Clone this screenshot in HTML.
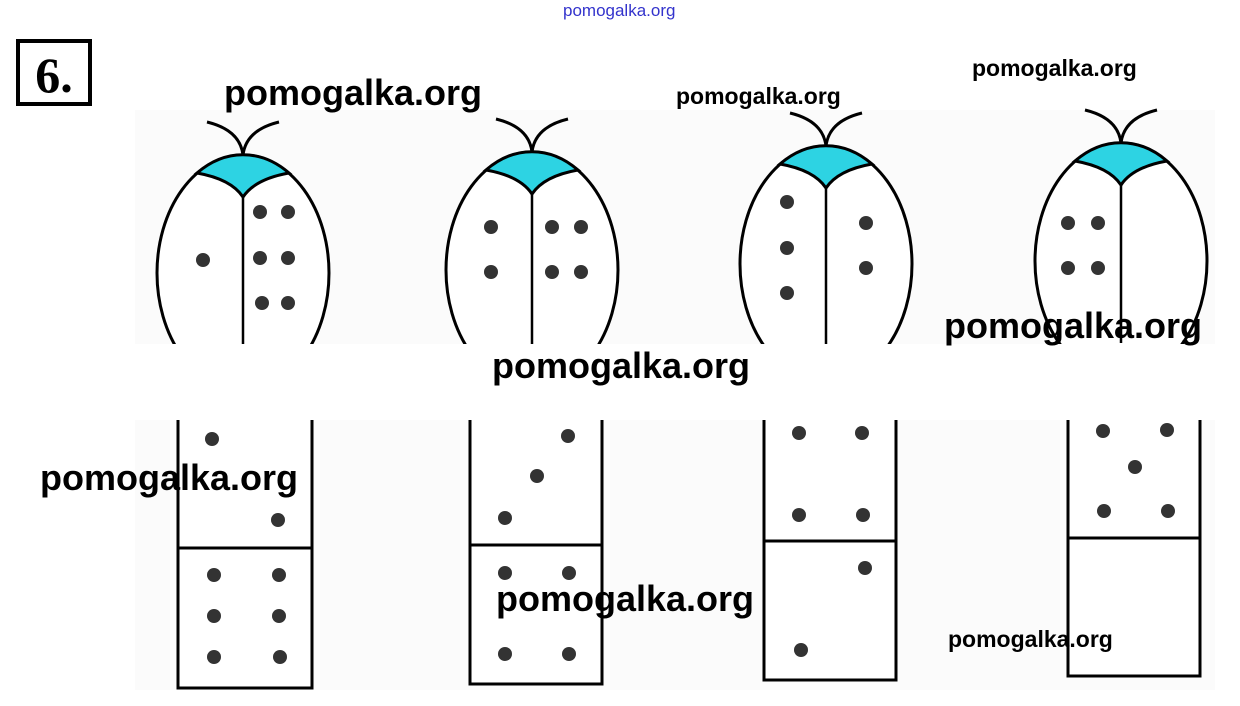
<!DOCTYPE html>
<html><head><meta charset="utf-8"><style>
html,body{margin:0;padding:0;background:#fff;}
.wm{position:absolute;font-family:"Liberation Sans",sans-serif;color:#000;white-space:nowrap;font-weight:bold;}
</style></head><body>
<div style="position:relative;width:1240px;height:706px;overflow:hidden;">
<svg width="1240" height="706" style="position:absolute;left:0;top:0">
<defs>
<g id="lb">
<ellipse cx="0" cy="118" rx="86" ry="118" fill="#fff" stroke="#000" stroke-width="3"/>
<path d="M-46,18 A86,118 0 0 1 46,18 Q12,24 0,42 Q-12,24 -46,18 Z" fill="#2dd3e3" stroke="#000" stroke-width="3"/>
<line x1="0" y1="42" x2="0" y2="200" stroke="#000" stroke-width="2.5"/>
<path d="M0,0 Q-3,-25 -36,-33 M0,0 Q3,-25 36,-33" fill="none" stroke="#000" stroke-width="3"/>
</g>
</defs>
<rect x="135" y="110" width="1080" height="580" fill="#fbfbfb"/>
<use href="#lb" x="243" y="155"/>
<use href="#lb" x="532" y="152"/>
<use href="#lb" x="826" y="146"/>
<use href="#lb" x="1121" y="143"/>
<g fill="#333">
<circle cx="203" cy="260" r="7"/><circle cx="260" cy="212" r="7"/><circle cx="288" cy="212" r="7"/><circle cx="260" cy="258" r="7"/><circle cx="288" cy="258" r="7"/><circle cx="262" cy="303" r="7"/><circle cx="288" cy="303" r="7"/>
<circle cx="491" cy="227" r="7"/><circle cx="491" cy="272" r="7"/><circle cx="552" cy="227" r="7"/><circle cx="581" cy="227" r="7"/><circle cx="552" cy="272" r="7"/><circle cx="581" cy="272" r="7"/>
<circle cx="787" cy="202" r="7"/><circle cx="787" cy="248" r="7"/><circle cx="787" cy="293" r="7"/><circle cx="866" cy="223" r="7"/><circle cx="866" cy="268" r="7"/>
<circle cx="1068" cy="223" r="7"/><circle cx="1098" cy="223" r="7"/><circle cx="1068" cy="268" r="7"/><circle cx="1098" cy="268" r="7"/>
</g>
<g fill="#fff" stroke="#000" stroke-width="3">
<rect x="178" y="400" width="134" height="288"/><line x1="178" y1="548" x2="312" y2="548"/>
<rect x="470" y="400" width="132" height="284"/><line x1="470" y1="545" x2="602" y2="545"/>
<rect x="764" y="400" width="132" height="280"/><line x1="764" y1="541" x2="896" y2="541"/>
<rect x="1068" y="400" width="132" height="276"/><line x1="1068" y1="538" x2="1200" y2="538"/>
</g>
<rect x="0" y="344" width="1240" height="76" fill="#fff"/>
<g fill="#333">
<circle cx="212" cy="439" r="7"/><circle cx="278" cy="520" r="7"/>
<circle cx="214" cy="575" r="7"/><circle cx="279" cy="575" r="7"/><circle cx="214" cy="616" r="7"/><circle cx="279" cy="616" r="7"/><circle cx="214" cy="657" r="7"/><circle cx="280" cy="657" r="7"/>
<circle cx="568" cy="436" r="7"/><circle cx="537" cy="476" r="7"/><circle cx="505" cy="518" r="7"/>
<circle cx="505" cy="573" r="7"/><circle cx="569" cy="573" r="7"/><circle cx="505" cy="654" r="7"/><circle cx="569" cy="654" r="7"/>
<circle cx="799" cy="433" r="7"/><circle cx="862" cy="433" r="7"/><circle cx="799" cy="515" r="7"/><circle cx="863" cy="515" r="7"/>
<circle cx="865" cy="568" r="7"/><circle cx="801" cy="650" r="7"/>
<circle cx="1103" cy="431" r="7"/><circle cx="1167" cy="430" r="7"/><circle cx="1135" cy="467" r="7"/><circle cx="1104" cy="511" r="7"/><circle cx="1168" cy="511" r="7"/>
</g>
<rect x="18" y="41" width="72" height="63" fill="#fff" stroke="#000" stroke-width="4"/>
<text x="54" y="92" text-anchor="middle" font-family="Liberation Serif,serif" font-weight="bold" font-size="50">6.</text>
</svg>
<div class="wm" style="left:563px;top:1px;font-size:17px;color:#33c;font-weight:normal;">pomogalka.org</div>
<div class="wm" style="left:224px;top:72px;font-size:36px;">pomogalka.org</div>
<div class="wm" style="left:676px;top:83px;font-size:23px;">pomogalka.org</div>
<div class="wm" style="left:972px;top:55px;font-size:23px;">pomogalka.org</div>
<div class="wm" style="left:944px;top:305px;font-size:36px;">pomogalka.org</div>
<div class="wm" style="left:492px;top:345px;font-size:36px;">pomogalka.org</div>
<div class="wm" style="left:40px;top:457px;font-size:36px;">pomogalka.org</div>
<div class="wm" style="left:496px;top:578px;font-size:36px;">pomogalka.org</div>
<div class="wm" style="left:948px;top:626px;font-size:23px;">pomogalka.org</div>
</div>
</body></html>
